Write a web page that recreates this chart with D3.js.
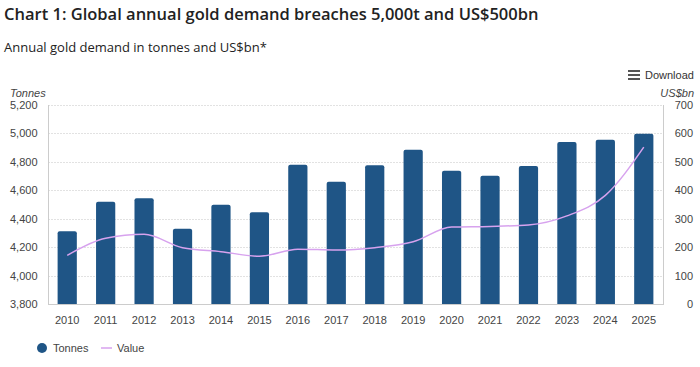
<!DOCTYPE html>
<html>
<head>
<meta charset="utf-8">
<script src="https://cdn.jsdelivr.net/npm/d3@7"></script>
<style>
  body { margin: 0; background: #fff; }
  svg { display: block; font-family: "Liberation Sans", Arial, sans-serif; }
</style>
</head>
<body>
<svg width="700" height="367"></svg>
<script>
// data
var years = ["2010","2011","2012","2013","2014","2015","2016","2017","2018","2019","2020","2021","2022","2023","2024","2025"];
var tonnes = [4311, 4520, 4544, 4330, 4499, 4445, 4780, 4660, 4776, 4885, 4738, 4703, 4771, 4940, 4956, 4998];
var value = [171, 231, 245, 198, 184, 168, 193, 190, 198, 219, 271, 273, 278, 310, 382, 552];
var leftTicks = [3800, 4000, 4200, 4400, 4600, 4800, 5000, 5200];
var rightTicks = [0, 100, 200, 300, 400, 500, 600, 700];

// basic settings
var plotLeft = 48, plotRight = 663, plotTop = 105, plotBottom = 304;
var barColor = "#1f5586", lineColor = "#d7a2ee";

var svg = d3.select("svg");

var x = d3.scaleBand().domain(years).range([plotLeft, plotRight]).paddingInner(0.5).paddingOuter(0.25);
var yL = d3.scaleLinear().domain([3800, 5200]).range([plotBottom, plotTop]);
var yR = d3.scaleLinear().domain([0, 700]).range([plotBottom, plotTop]);

// titles
svg.append("text").attr("x", 4).attr("y", 20)
  .attr("font-family", "'Open Sans', sans-serif").attr("font-weight", "600")
  .attr("font-size", 16.5).attr("fill", "#222")
  .text("Chart 1: Global annual gold demand breaches 5,000t and US$500bn");
svg.append("text").attr("x", 4).attr("y", 52)
  .attr("font-family", "'Open Sans', sans-serif")
  .attr("font-size", 13).attr("fill", "#222")
  .text("Annual gold demand in tonnes and US$bn*");

// download
var dl = svg.append("g").attr("transform", "translate(628,70)");
[0, 4, 8].forEach(function(d) {
  dl.append("rect").attr("x", 0).attr("y", d).attr("width", 12).attr("height", 2).attr("fill", "#555");
});
svg.append("text").attr("x", 645).attr("y", 79).attr("font-size", 11).attr("fill", "#333").text("Download");

// grid
svg.append("g").selectAll("line").data(leftTicks.slice(1)).enter().append("line")
  .attr("x1", plotLeft).attr("x2", plotRight)
  .attr("y1", function(d) { return Math.round(yL(d)) + 0.5; })
  .attr("y2", function(d) { return Math.round(yL(d)) + 0.5; })
  .attr("stroke", "#e2e2e2").attr("stroke-dasharray", "2,1");

// bars
svg.append("g").selectAll("path").data(tonnes).enter().append("path")
  .attr("fill", barColor)
  .attr("d", function(d, i) {
    var x0 = x(years[i]), w = x.bandwidth(), y0 = yL(d), r = 2;
    return "M" + x0 + "," + plotBottom + "V" + (y0 + r) + "Q" + x0 + "," + y0 + " " + (x0 + r) + "," + y0 +
      "H" + (x0 + w - r) + "Q" + (x0 + w) + "," + y0 + " " + (x0 + w) + "," + (y0 + r) + "V" + plotBottom + "Z";
  });

// axis frame
svg.append("line").attr("x1", plotLeft + 0.5).attr("x2", plotLeft + 0.5).attr("y1", plotTop).attr("y2", plotBottom).attr("stroke", "#ccc");
svg.append("line").attr("x1", plotRight + 0.5).attr("x2", plotRight + 0.5).attr("y1", plotTop).attr("y2", plotBottom).attr("stroke", "#ccc");
svg.append("line").attr("x1", plotLeft).attr("x2", plotRight + 1).attr("y1", plotBottom + 0.5).attr("y2", plotBottom + 0.5).attr("stroke", "#ccc");

// line
var line = d3.line()
  .x(function(d, i) { return x(years[i]) + x.bandwidth() / 2; })
  .y(function(d) { return yR(d); })
  .curve(d3.curveMonotoneX);
svg.append("path").datum(value).attr("d", line)
  .attr("fill", "none").attr("stroke", lineColor).attr("stroke-width", 1.5);

// axes
var yAxisL = d3.axisLeft(yL).tickValues(leftTicks).tickSize(0).tickPadding(10).tickFormat(d3.format(","));
var gl = svg.append("g").attr("transform", "translate(" + plotLeft + ",0)").call(yAxisL);
gl.select(".domain").remove();
gl.selectAll("text").attr("font-size", 11).attr("fill", "#444").attr("text-anchor", "start").attr("x", -38);

var yAxisR = d3.axisRight(yR).tickValues(rightTicks).tickSize(0).tickPadding(0);
var gr = svg.append("g").attr("transform", "translate(" + plotRight + ",0)").call(yAxisR);
gr.select(".domain").remove();
gr.selectAll("text").attr("font-size", 11).attr("fill", "#444").attr("text-anchor", "end").attr("x", 30);

var xAxis = d3.axisBottom(x).tickSize(0).tickPadding(12);
var gx = svg.append("g").attr("transform", "translate(0," + plotBottom + ")").call(xAxis);
gx.select(".domain").remove();
gx.selectAll("text").attr("font-size", 11).attr("fill", "#444");

// axis titles
svg.append("text").attr("x", 10).attr("y", 97).attr("font-size", 11).attr("font-style", "italic").attr("fill", "#444").text("Tonnes");
svg.append("text").attr("x", 694).attr("y", 97).attr("font-size", 11).attr("font-style", "italic").attr("fill", "#444").attr("text-anchor", "end").text("US$bn");

// legend
svg.append("circle").attr("cx", 42).attr("cy", 348).attr("r", 5).attr("fill", barColor);
svg.append("text").attr("x", 53).attr("y", 352).attr("font-size", 11).attr("fill", "#444").text("Tonnes");
svg.append("line").attr("x1", 101).attr("x2", 112).attr("y1", 348).attr("y2", 348).attr("stroke", lineColor).attr("stroke-width", 1.5);
svg.append("text").attr("x", 117).attr("y", 352).attr("font-size", 11).attr("fill", "#444").text("Value");
</script>
</body>
</html>
